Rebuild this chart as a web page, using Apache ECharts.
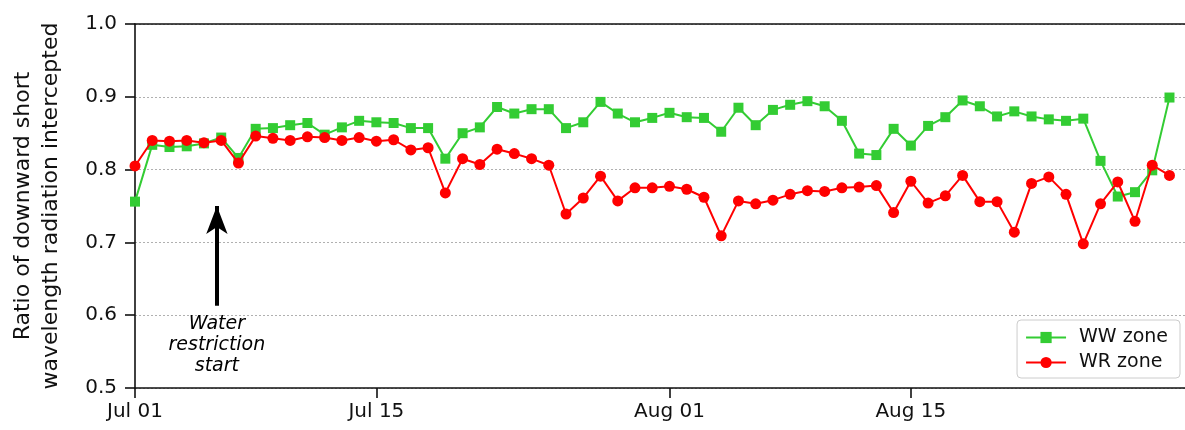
<!DOCTYPE html>
<html>
<head>
<meta charset="utf-8">
<script src="https://cdn.jsdelivr.net/npm/echarts@6/dist/echarts.min.js"></script>
<style>
html,body{margin:0;padding:0;background:#fff;}
#chart{width:1185px;height:430px;}
</style>
</head>
<body>
<div id="chart"></div>
<script>
// Day offsets from Jul 01
var days = [0,1,2,3,4,5,6,7,8,9,10,11,12,13,14,15,16,17,18,19,20,21,22,23,24,25,26,27,28,29,30,
            31,32,33,34,35,36,37,38,39,40,41,42,43,44,45,46,47,48,49,50,51,52,53,54,55,56,57,58,59,60];
var wwZone = [0.756,0.834,0.831,0.832,0.836,0.844,0.816,0.856,0.857,0.861,0.864,0.848,0.858,0.867,0.865,0.864,
              0.857,0.857,0.815,0.850,0.858,0.886,0.877,0.883,0.883,0.857,0.865,0.893,0.877,0.865,0.871,
              0.878,0.872,0.871,0.852,0.885,0.861,0.882,0.889,0.894,0.887,0.867,0.822,0.820,0.856,0.833,
              0.860,0.872,0.895,0.887,0.873,0.880,0.873,0.869,0.867,0.870,0.812,0.763,0.769,0.799,0.899];
var wrZone = [0.805,0.840,0.839,0.840,0.837,0.840,0.809,0.846,0.843,0.840,0.845,0.844,0.840,0.844,0.839,0.841,
              0.827,0.830,0.768,0.815,0.807,0.828,0.822,0.815,0.806,0.739,0.761,0.791,0.757,0.775,0.775,
              0.777,0.773,0.762,0.709,0.757,0.753,0.758,0.766,0.771,0.770,0.775,0.776,0.778,0.741,0.784,
              0.754,0.764,0.792,0.756,0.756,0.714,0.781,0.790,0.766,0.698,0.753,0.783,0.729,0.806,0.792];
var xTickDays = [0,14,31,45];
var xTickLabels = ['Jul 01','Jul 15','Aug 01','Aug 15'];
var annotDay = 4.75;
var arrowFrom = 0.613, arrowTo = 0.75, annotTextY = 0.559;

function pairs(xs, ys){ return xs.map(function(x,i){ return [x, ys[i]]; }); }

var FONT = 'DejaVu Sans';
var INK = '#111';
var chart = echarts.init(document.getElementById('chart'));
chart.setOption({
  animation: false,
  backgroundColor: '#fff',
  textStyle: {fontFamily: FONT},
  grid: {left: 135, right: 0, top: 24, bottom: 42, containLabel: false},
  legend: {
    data: ['WW zone','WR zone'],
    orient: 'vertical',
    right: 5, bottom: 52,
    itemWidth: 40, itemHeight: 14, itemGap: 6,
    padding: [8, 12, 6, 8],
    backgroundColor: '#fff',
    borderColor: '#cccccc', borderWidth: 1, borderRadius: 4,
    textStyle: {fontFamily: FONT, fontSize: 19, color: INK, padding: [0,0,0,8]}
  },
  xAxis: [{
    type: 'value', min: 0, max: 60.9,
    axisLine: {show: true, onZero: false, lineStyle: {color: INK, width: 1.6}},
    axisTick: {show: true, length: 10, customValues: xTickDays, lineStyle: {color: INK, width: 1.6}},
    axisLabel: {show: true, customValues: xTickDays, margin: 14, fontSize: 20, color: INK, fontFamily: FONT,
      formatter: function(v){ var i = xTickDays.indexOf(Math.round(v)); return i >= 0 ? xTickLabels[i] : ''; }},
    splitLine: {show: false}
  },{
    type: 'value', min: 0, max: 60.9, position: 'top',
    axisLine: {show: true, onZero: false, lineStyle: {color: INK, width: 1.6}},
    axisTick: {show: false}, axisLabel: {show: false}, splitLine: {show: false}
  }],
  yAxis: {
    type: 'value', min: 0.5, max: 1.0, interval: 0.1,
    name: 'Ratio of downward short\nwavelength radiation intercepted',
    nameLocation: 'middle', nameRotate: 90, nameGap: 70,
    nameTextStyle: {fontFamily: FONT, fontSize: 22, color: INK, lineHeight: 28},
    axisLine: {show: true, onZero: false, lineStyle: {color: INK, width: 1.6}},
    axisTick: {show: true, length: 10, lineStyle: {color: INK, width: 1.6}},
    axisLabel: {margin: 18, fontSize: 20, color: INK, fontFamily: FONT,
      formatter: function(v){ return v.toFixed(1); }},
    splitLine: {show: true, lineStyle: {color: '#b0b0b0', width: 1, type: [2,2]}}
  },
  series: [
    {
      name: 'WW zone', type: 'line', data: pairs(days, wwZone),
      symbol: 'rect', symbolSize: 10, showAllSymbol: true,
      lineStyle: {color: '#33cc33', width: 2},
      itemStyle: {color: '#33cc33', borderWidth: 0},
      z: 3
    },
    {
      name: 'WR zone', type: 'line', data: pairs(days, wrZone),
      symbol: 'circle', symbolSize: 11, showAllSymbol: true,
      lineStyle: {color: '#ff0000', width: 2},
      itemStyle: {color: '#ff0000', borderWidth: 0},
      z: 4
    },
    {
      name: 'annotation', type: 'scatter', silent: true,
      data: [[annotDay, annotTextY]],
      symbolSize: 0, itemStyle: {color: '#000'},
      label: {show: true, position: 'inside', formatter: 'Water\nrestriction\nstart',
        fontFamily: FONT, fontSize: 19, fontStyle: 'italic', color: '#000', lineHeight: 21, align: 'center',
        textBorderWidth: 0, opacity: 1},
      markLine: {
        silent: true, animation: false,
        symbol: ['none', 'arrow'], symbolSize: [16, 28],
        label: {show: false},
        lineStyle: {color: '#000', width: 4, type: 'solid'},
        data: [[{coord: [annotDay, arrowFrom]}, {coord: [annotDay, arrowTo]}]]
      },
      z: 5
    }
  ]
});
</script>
</body>
</html>
